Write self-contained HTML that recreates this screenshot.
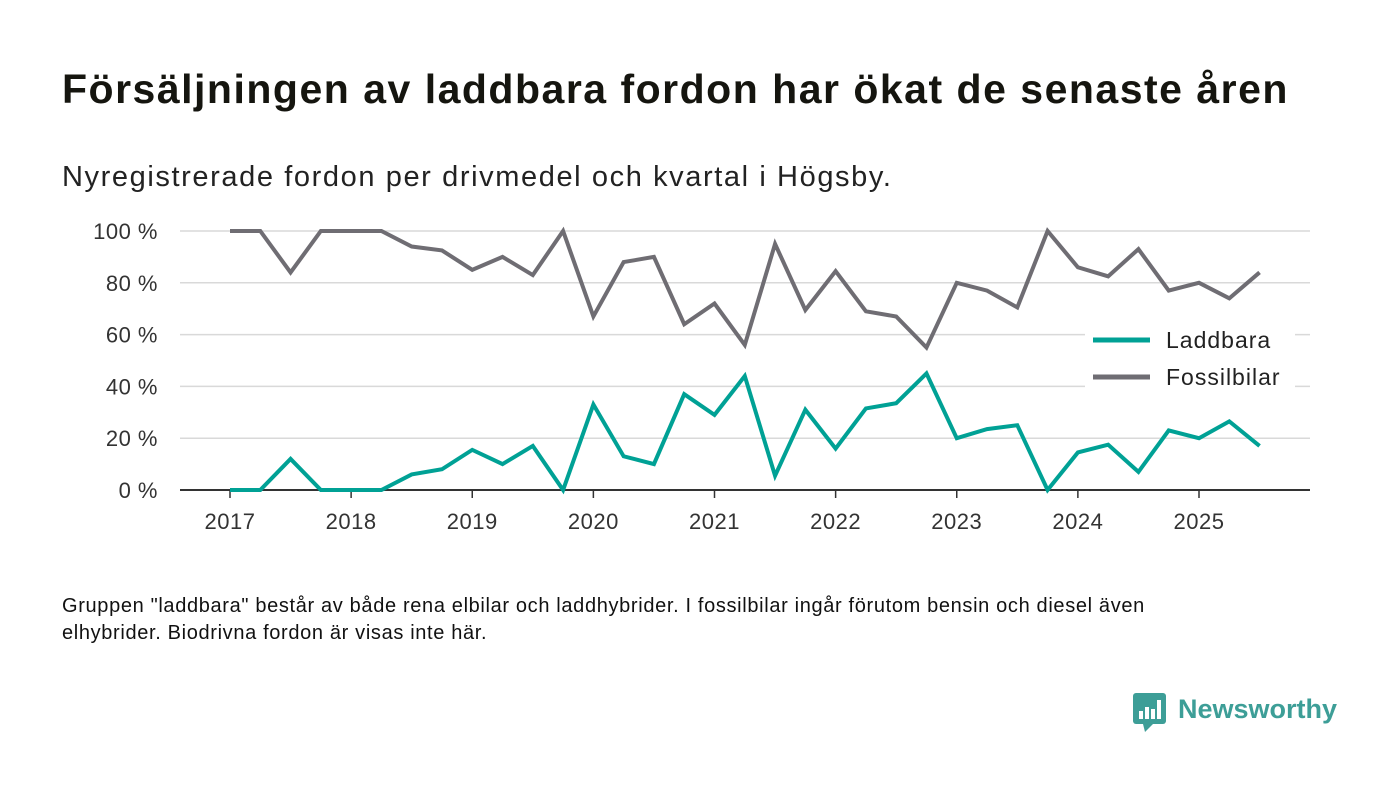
<!DOCTYPE html>
<html><head><meta charset="utf-8"><style>
body{margin:0;width:1400px;height:793px;background:#fff;font-family:"Liberation Sans",sans-serif;color:#111;overflow:hidden;position:relative}
.t{position:absolute;white-space:nowrap}
</style></head><body>
<div class="t" style="left:62px;top:66px;font-size:41px;font-weight:bold;color:#15150f;letter-spacing:1.5px">Försäljningen av laddbara fordon har ökat de senaste åren</div>
<div class="t" style="left:62px;top:161px;font-size:29px;color:#222;letter-spacing:1.6px">Nyregistrerade fordon per drivmedel och kvartal i Högsby.</div>
<svg id="c" width="1400" height="793" style="position:absolute;left:0;top:0"></svg>
<div class="t" style="left:62px;top:593px;font-size:20px;line-height:27px;color:#111;letter-spacing:0.65px">Gruppen "laddbara" består av både rena elbilar och laddhybrider. I fossilbilar ingår förutom bensin och diesel även<br>elhybrider. Biodrivna fordon är visas inte här.</div>
<div style="position:absolute;left:1133px;top:693px;">
<svg width="34" height="40"><rect x="0" y="0" width="33" height="31" rx="3" fill="#3d9e97"/><polygon points="10,31 20,31 12,39" fill="#3d9e97"/><rect x="6" y="18" width="4" height="8" fill="#fff"/><rect x="12" y="14" width="4" height="12" fill="#fff"/><rect x="18" y="16" width="4" height="10" fill="#fff"/><rect x="24" y="7" width="4" height="19" fill="#fff"/></svg>
<span class="t" style="left:45px;top:1px;font-size:27px;font-weight:bold;color:#3d9e97">Newsworthy</span></div>
<script>
const years=["2017","2018","2019","2020","2021","2022","2023","2024","2025"];
const yTicks=[0,20,40,60,80,100];
const laddbara=[0,0,12,0,0,0,6,8,15.5,10,17,0,33,13,10,37,29,44,5.5,31,16,31.5,33.5,45,20,23.5,25,0,14.5,17.5,7,23,20,26.5,17];
const fossil=[100,100,84,100,100,100,94,92.5,85,90,83,100,67,88,90,64,72,56,95,69.5,84.5,69,67,55,80,77,70.5,100,86,82.5,93,77,80,74,84];
const svg=document.getElementById('c');const NS='http://www.w3.org/2000/svg';
const x=i=>230+i*(1199-230)/32;const y=v=>490-v*2.59;
function mk(t,a){const e=document.createElementNS(NS,t);for(const k in a)e.setAttribute(k,a[k]);svg.appendChild(e);return e;}
yTicks.forEach(v=>{
 const g=mk('line',{x1:180,x2:1310,y1:y(v),y2:y(v),stroke:v?'#d9d9d9':'#333','stroke-width':v?1.5:2});
 
 
 const t=mk('text',{x:158,y:y(v)+8,'text-anchor':'end','font-size':22,fill:'#333','letter-spacing':0.5});t.textContent=v+' %';
 
 
});
years.forEach((yr,k)=>{
 const xi=x(k*4);
 const tk=mk('line',{x1:xi,x2:xi,y1:490,y2:498,stroke:'#333','stroke-width':1.5});
 
 
 const t=mk('text',{x:xi,y:529,'text-anchor':'middle','font-size':22,fill:'#333','letter-spacing':0.5});t.textContent=yr;
 
 
});
function line(d,c,n){const p=mk('polyline',{points:d.map((v,i)=>x(i)+','+y(v)).join(' '),fill:'none',stroke:c,'stroke-width':4,'stroke-linejoin':'miter'});
 
 }
line(fossil,'#6f6d73','fossilbilar-line');
line(laddbara,'#00a195','laddbara-line');
mk('rect',{x:1085,y:318,width:210,height:82,fill:'#fff'});
[['Laddbara','#00a195',340],['Fossilbilar','#6f6d73',377]].forEach(([n,c,yy])=>{
 const l=mk('line',{x1:1093,x2:1150,y1:yy,y2:yy,stroke:c,'stroke-width':5});
 
 
 const t=mk('text',{x:1166,y:yy+8,'font-size':23,fill:'#222','letter-spacing':1});t.textContent=n;
 
 
});
</script>
</body></html>
